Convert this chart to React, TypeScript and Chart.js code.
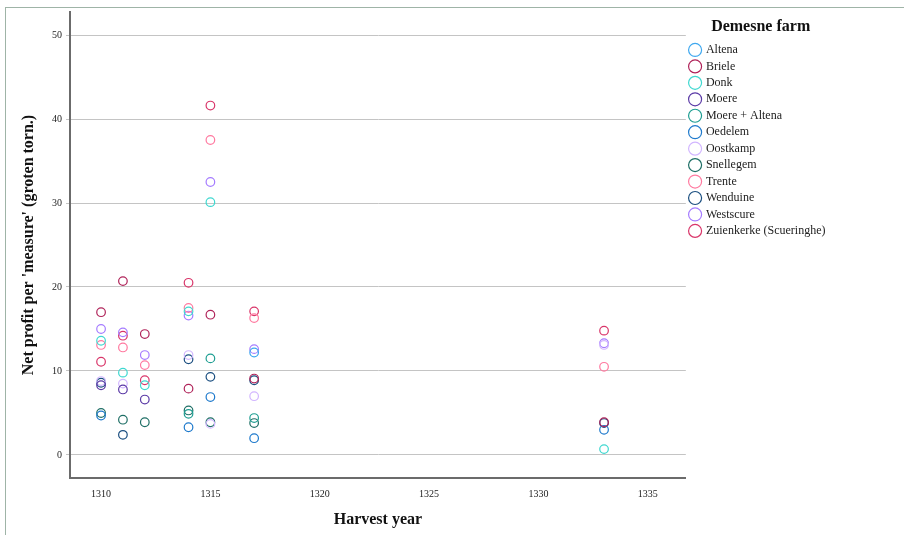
import React, { useEffect, useRef } from 'react';
import { Chart, registerables } from 'chart.js';

Chart.register(...registerables);

// Harvest years on the x axis (shared by all series)
const harvestYears = [1310, 1311, 1312, 1314, 1315, 1317, 1333];

// Demesne farms (legend order)
const farms = [
  'Altena',
  'Briele',
  'Donk',
  'Moere',
  'Moere + Altena',
  'Oedelem',
  'Oostkamp',
  'Snellegem',
  'Trente',
  'Wenduine',
  'Westscure',
  'Zuienkerke (Scueringhe)',
];

// Net profit per 'measure' for each farm, by harvest year (null = no record)
const altenaValues = [null, null, null, null, null, 12.2, null];
const brieleValues = [17.0, 20.7, 14.4, 7.9, 16.7, 9.1, 3.9];
const donkValues = [13.6, 9.8, 8.3, 17.1, 30.1, null, 0.7];
const moereValues = [8.3, 7.8, 6.6, null, null, null, null];
const moereAltenaValues = [null, null, null, 4.9, 11.5, 4.4, null];
const oedelemValues = [4.7, null, null, 3.3, 6.9, 2.0, 3.0];
const oostkampValues = [8.8, 8.5, null, 11.9, 3.7, 7.0, 13.1];
const snellegemValues = [5.0, 4.2, 3.9, 5.3, 3.9, 3.8, null];
const trenteValues = [13.1, 12.8, 10.7, 17.5, 37.5, 16.3, 10.5];
const wenduineValues = [8.6, 2.4, null, 11.4, 9.3, 8.9, 3.8];
const westscureValues = [15.0, 14.6, 11.9, 16.6, 32.5, 12.6, 13.3];
const zuienkerkeValues = [11.1, 14.2, 8.9, 20.5, 41.6, 17.1, 14.8];

const seriesValues = [
  altenaValues,
  brieleValues,
  donkValues,
  moereValues,
  moereAltenaValues,
  oedelemValues,
  oostkampValues,
  snellegemValues,
  trenteValues,
  wenduineValues,
  westscureValues,
  zuienkerkeValues,
];

const farmColors = [
  '#3fa8ef',
  '#b0245a',
  '#3fd8d0',
  '#5b3aa6',
  '#1e9e92',
  '#1f7acc',
  '#d2b6ff',
  '#1f6f66',
  '#ff7aa0',
  '#1b4f80',
  '#a57cff',
  '#d9366a',
];

const xTicksStep = 5;
const yTicksStep = 10;

const SERIF = "'Liberation Serif', 'Times New Roman', serif";

export default function App() {
  const canvasRef = useRef<HTMLCanvasElement | null>(null);

  useEffect(() => {
    if (!canvasRef.current) return;
    const datasets = farms.map((name, i) => ({
      label: name,
      data: harvestYears
        .map((x, j) => ({ x, y: seriesValues[i][j] }))
        .filter((p) => p.y !== null) as { x: number; y: number }[],
      borderColor: farmColors[i],
      backgroundColor: 'rgba(0,0,0,0)',
      pointRadius: 4.3,
      pointBorderWidth: 1.2,
      pointStyle: 'circle' as const,
    }));

    const chart = new Chart(canvasRef.current, {
      type: 'scatter',
      data: { datasets },
      options: {
        responsive: false,
        animation: false,
        layout: { padding: { left: 8, right: 68.5, top: 12, bottom: 0 } },
        scales: {
          x: {
            type: 'linear',
            min: 1308.58,
            max: 1336.74,
            ticks: {
              stepSize: xTicksStep,
              includeBounds: false,
              padding: 10,
              color: '#222',
              font: { family: SERIF, size: 10 },
              callback: (v: any) => String(v),
            },
            grid: { display: false, drawTicks: false },
            border: { display: true, color: '#6b6b6b', width: 2 },
            title: {
              display: true,
              text: 'Harvest year',
              color: '#111',
              font: { family: SERIF, size: 16, weight: 'bold' },
              padding: { top: 0, bottom: 6 },
            },
            afterFit: (s: any) => {
              s.height = 57;
            },
          },
          y: {
            type: 'linear',
            min: -2.74,
            max: 52.74,
            ticks: {
              stepSize: yTicksStep,
              includeBounds: false,
              padding: 4,
              color: '#222',
              font: { family: SERIF, size: 10 },
              callback: (v: any) => String(v),
            },
            grid: { color: '#c4c4c4', lineWidth: 1, drawTicks: true, tickLength: 4 },
            border: { display: true, color: '#6b6b6b', width: 2 },
            title: {
              display: true,
              text: "Net profit per 'measure' (groten torn.)",
              color: '#111',
              font: { family: SERIF, size: 16, weight: 'bold' },
              padding: { top: 11, bottom: 0 },
            },
            afterFit: (s: any) => {
              s.width = 62;
            },
          },
        },
        plugins: {
          tooltip: { enabled: false },
          legend: {
            display: true,
            position: 'right',
            align: 'start',
            title: {
              display: true,
              text: 'Demesne farm',
              color: '#111',
              font: { family: SERIF, size: 16, weight: 'bold' },
              padding: { top: 7, bottom: 1.3 },
            },
            labels: {
              usePointStyle: true,
              boxWidth: 9.6,
              boxHeight: 9.2,
              padding: 4.45,
              color: '#222',
              font: { family: SERIF, size: 12 },
            },
          },
        },
      },
    });
    return () => chart.destroy();
  }, []);

  return (
    <>
      <div
        style={{
          position: 'absolute',
          left: 5,
          top: 7,
          width: 899,
          height: 528,
          boxSizing: 'border-box',
          borderTop: '1px solid #9fb4a7',
          borderLeft: '1px solid #9fb4a7',
        }}
      />
      <canvas
        ref={canvasRef}
        width={904}
        height={535}
        style={{ position: 'absolute', left: 0, top: 0, display: 'block' }}
      />
    </>
  );
}
